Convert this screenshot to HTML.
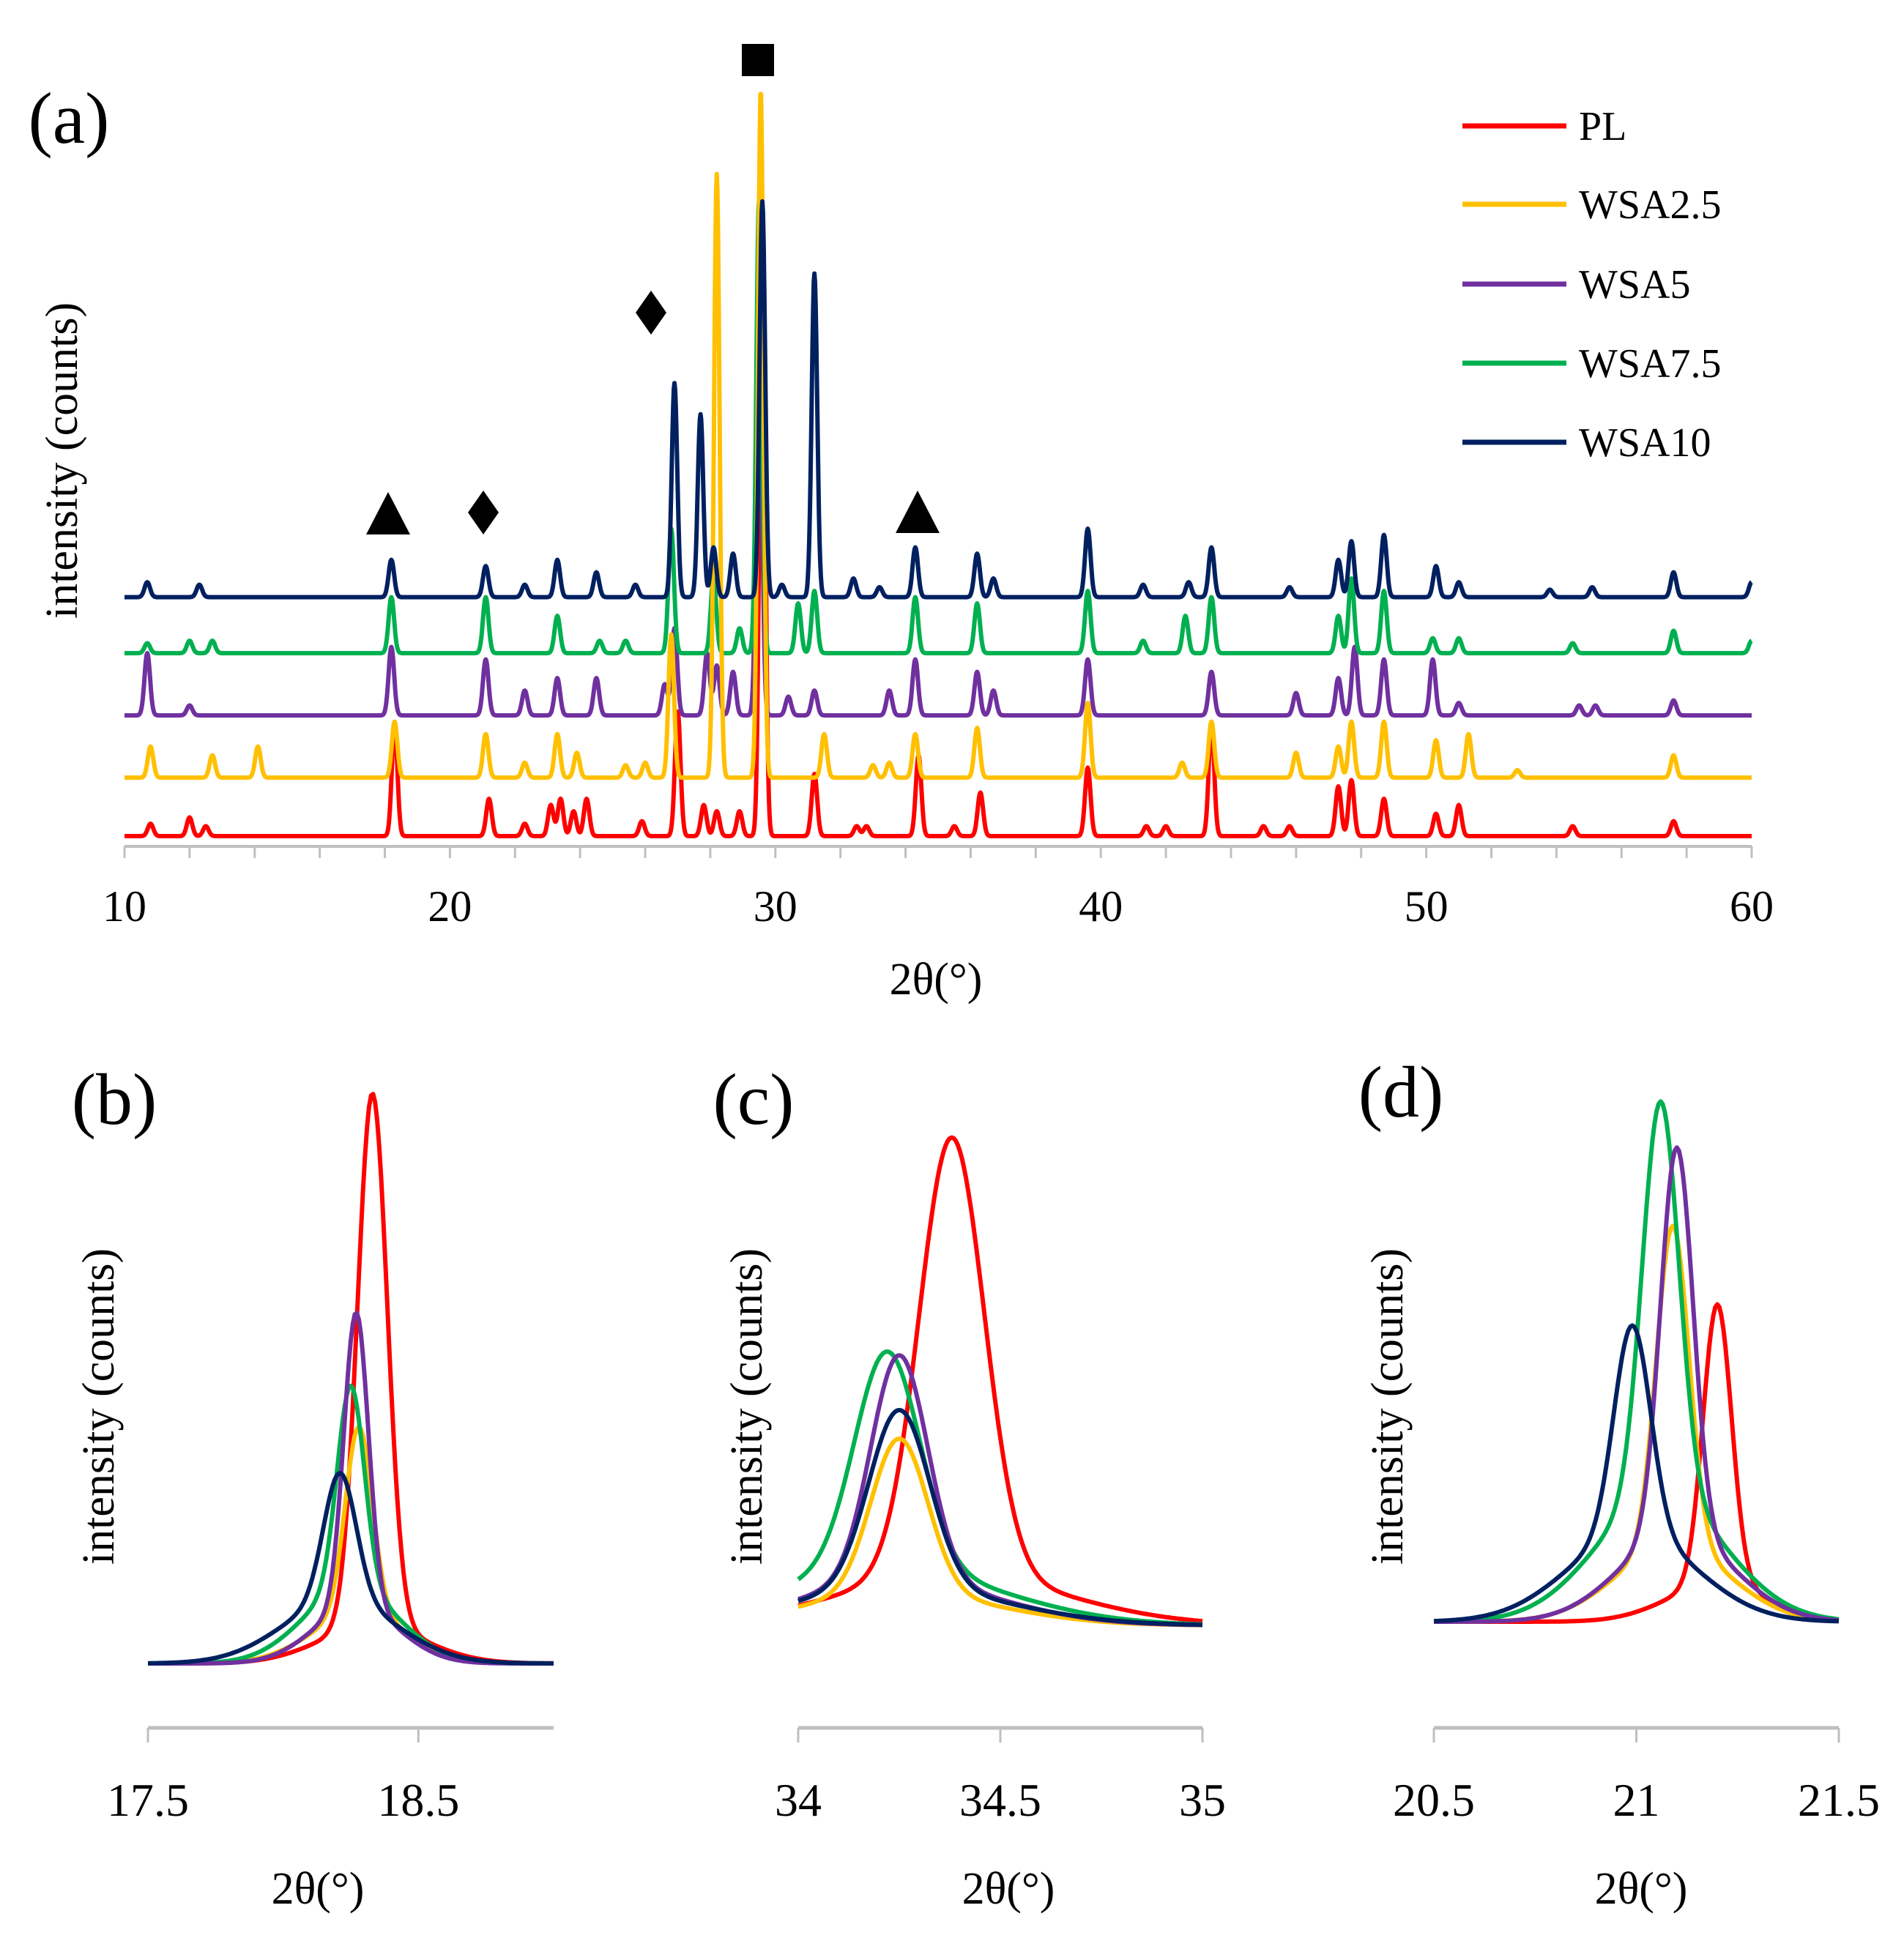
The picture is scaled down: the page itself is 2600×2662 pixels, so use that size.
<!DOCTYPE html>
<html><head><meta charset="utf-8">
<style>
html,body{margin:0;padding:0;background:#fff;}
svg{display:block;font-family:"Liberation Serif",serif;}
</style></head>
<body>
<svg id="fig" width="2600" height="2662" viewBox="0 0 2600 2662" xmlns="http://www.w3.org/2000/svg">
<rect width="2600" height="2662" fill="#fff"/>
<g id="pa"></g>
<g id="pb"></g>
<g id="pc"></g>
<g id="pd"></g>
</svg>
<script>
// ---------- data ----------
const seriesNames = ["PL","WSA2.5","WSA5","WSA7.5","WSA10"];
const seriesColors = ["#ff0000","#ffc000","#7030a0","#00b050","#002060"];
// panel (a): vertical offsets (intensity units) and peak lists
const aOffsets = [0, 47, 97, 147, 192];
const plPos = [10.8,12,12.5,18.3,21.2,22.3,23.1,23.4,23.8,24.2,25.9,27.0,27.8,28.2,28.9,29.6,31.2,32.5,32.8,34.4,35.5,36.3,39.6,41.4,42,43.4,45,45.8,47.3,47.7,48.7,50.3,51,54.5,57.6];
const plHt  = [10,15,8,90,30,10,25,30,20,30,12,100,25,20,20,505,50,8,8,65,8,35,55,8,8,90,8,8,40,45,30,18,25,8,12];
const w25Pos = [10.8,12.7,14.1,18.3,21.1,22.3,23.3,23.9,25.4,26,26.8,28.2,29.55,31.5,33,33.5,34.3,36.2,39.6,42.5,43.4,46,47.3,47.7,48.7,50.3,51.3,52.8,57.6];
const w25Ht  = [25,18,25,45,35,12,35,20,10,12,115,485,553,35,10,12,35,40,60,12,45,20,25,45,45,30,35,6,18];
const w5Pos = [10.7,12,18.2,21.1,22.3,23.3,24.5,26.6,26.9,27.9,28.2,28.7,29.5,30.4,31.2,33.5,34.3,36.2,36.7,39.6,43.4,46,47.3,47.8,48.7,50.2,51,54.7,55.2,57.6];
const w5Ht  = [50,8,55,45,20,30,30,25,70,50,40,35,330,15,20,20,45,35,20,45,35,18,30,55,45,45,10,8,8,12];
const w75Pos = [10.7,12,12.7,18.2,21.1,23.3,24.6,25.4,26.8,28.1,28.9,29.5,30.7,31.2,34.3,36.2,39.6,41.3,42.6,43.4,47.3,47.7,48.7,50.2,51,54.5,57.6,60];
const w75Ht  = [8,10,10,45,45,30,10,10,100,60,20,365,40,50,45,40,50,10,30,45,30,60,50,12,12,8,18,10];
const w10Pos = [10.7,12.3,18.2,21.1,22.3,23.3,24.5,25.7,26.9,27.7,28.1,28.7,29.6,30.2,31.2,32.4,33.2,34.3,36.2,36.7,39.6,41.3,42.7,43.4,45.8,47.3,47.7,48.7,50.3,51,53.8,55.1,57.6,60];
const w10Ht  = [12,10,30,25,10,30,20,10,172,147,40,35,318,10,260,15,8,40,35,15,55,10,12,40,8,30,45,50,25,12,6,8,20,12];
// panel (b): one main peak + broad foot per series
const bCenter = [18.33,18.28,18.27,18.25,18.21];
const bAmp    = [428,150,237,163,103];
const bFootAmp= [30,40,45,60,50];
// panel (c)
const cCenter = [34.38,34.25,34.25,34.22,34.25];
const cAmp    = [352,125,182,175,143];
const cFootAmp= [40,25,35,45,30];
// panel (d)
const dCenter = [21.2,21.09,21.1,21.06,20.99];
const dAmp    = [225,258,311,318,168];
const dFootAmp= [30,60,70,100,70];

const NS="http://www.w3.org/2000/svg";
function mk(parent,tag,attrs,text){const e=document.createElementNS(NS,tag);for(const k in attrs)e.setAttribute(k,attrs[k]);if(text!==undefined)e.textContent=text;parent.appendChild(e);return e;}

// ---------- panel a ----------
const pa=document.getElementById('pa');
const ax0=170, ax1=2392, axY=1156, aBase=1142, aK=1.7;
const xa=v=>ax0+(v-10)/50*(ax1-ax0);
const ya=(s,v)=>aBase-(aOffsets[s]+v)*aK;
const aPos=[plPos,w25Pos,w5Pos,w75Pos,w10Pos], aHt=[plHt,w25Ht,w5Ht,w75Ht,w10Ht];
const aLine=mk(pa,'line',{x1:ax0,y1:axY,x2:ax1,y2:axY,stroke:'#bfbfbf','stroke-width':4});


for(let t=10;t<=60;t+=2){
  const tk=mk(pa,'line',{x1:xa(t),y1:axY,x2:xa(t),y2:axY+16,stroke:'#bfbfbf','stroke-width':3});
  
  
  if(t%10===0){
    const lb=mk(pa,'text',{x:xa(t),y:1258,'font-size':60,'text-anchor':'middle'},String(t));
    
    
  }
}
const drawOrder=[0,2,3,1,4];
for(const s of drawOrder){
  let d='';
  for(let x=10;x<=60.0001;x+=0.02){
    let v=0;const P=aPos[s],H=aHt[s];
    for(let i=0;i<P.length;i++){const dx=(x-P[i])/0.085;v+=H[i]*Math.exp(-0.5*dx*dx);}
    d+=(d?'L':'M')+xa(x).toFixed(1)+','+ya(s,v).toFixed(1);
  }
  const p=mk(pa,'path',{d:d,fill:'none',stroke:seriesColors[s],'stroke-width':6,'stroke-linejoin':'round'});
  
  
}
let tx=mk(pa,'text',{x:94,y:195,'font-size':100,'text-anchor':'middle'},'(a)');


tx=mk(pa,'text',{x:0,y:0,'font-size':62,'text-anchor':'middle',transform:'translate(105,629) rotate(-90)'},'intensity (counts)');


tx=mk(pa,'text',{x:1278,y:1358,'font-size':62,'text-anchor':'middle'},'2θ(°)');


// markers
let m=mk(pa,'rect',{x:1013,y:60,width:44,height:44,fill:'#000'});


function diamond(cx,cy,name){const g=mk(pa,'polygon',{points:`${cx},${cy-30} ${cx+21},${cy} ${cx},${cy+30} ${cx-21},${cy}`,fill:'#000'});}
function tri(cx,cy,name){const g=mk(pa,'polygon',{points:`${cx},${cy-30} ${cx+30},${cy+28} ${cx-30},${cy+28}`,fill:'#000'});}
diamond(889,427,'marker-diamond-1');
diamond(660,700,'marker-diamond-2');
tri(530,702,'marker-triangle-1');
tri(1253,700,'marker-triangle-2');
// legend
const legY=[172,279,388,496,604];
for(let s=0;s<5;s++){
  const l=mk(pa,'line',{x1:1997,y1:legY[s],x2:2139,y2:legY[s],stroke:seriesColors[s],'stroke-width':7});
  
  
  const t=mk(pa,'text',{x:2156,y:legY[s]+19,'font-size':56},seriesNames[s]);
  
  
}

// ---------- zoom panels ----------
function zoomPanel(gid,key,xmin,xmax,px0,px1,base,ticks,tickLbls,centers,amps,foots,sig,lblTxt,lblX,lblY,ylX,titleX){
  const g=document.getElementById(gid);
  const xs=v=>px0+(v-xmin)/(xmax-xmin)*(px1-px0);
  const ys=v=>base-v*1.7;
  const ax=mk(g,'line',{x1:px0,y1:2360,x2:px1,y2:2360,stroke:'#bfbfbf','stroke-width':5});
  
  
  for(let i=0;i<ticks.length;i++){
    const tk=mk(g,'line',{x1:xs(ticks[i]),y1:2360,x2:xs(ticks[i]),y2:2380,stroke:'#bfbfbf','stroke-width':3});
    
    
    const tl=mk(g,'text',{x:xs(ticks[i]),y:2480,'font-size':64,'text-anchor':'middle'},tickLbls[i]);
    
    
  }
  const order=[0,1,3,2,4];
  for(const s of order){
    let d='';
    for(let x=xmin;x<=xmax+1e-6;x+=(xmax-xmin)/200){
      const dx=(x-centers[s])/sig[s], df=(x-centers[s])/(sig[s]*3.5);
      const v=amps[s]*Math.exp(-0.5*dx*dx)+foots[s]*Math.exp(-0.5*df*df);
      d+=(d?'L':'M')+xs(x).toFixed(1)+','+ys(v).toFixed(1);
    }
    const p=mk(g,'path',{d:d,fill:'none',stroke:seriesColors[s],'stroke-width':6,'stroke-linejoin':'round'});
    
    
  }
  let t=mk(g,'text',{x:lblX,y:lblY,'font-size':100,'text-anchor':'middle'},lblTxt);
  
  
  t=mk(g,'text',{x:0,y:0,'font-size':62,'text-anchor':'middle',transform:`translate(${ylX},1921) rotate(-90)`},'intensity (counts)');
  
  
  t=mk(g,'text',{x:titleX,y:2600,'font-size':62,'text-anchor':'middle'},'2θ(°)');
  
  
}
zoomPanel('pb','b',17.5,19.0,202,756,2272,[17.5,18.5],['17.5','18.5'],bCenter,bAmp,bFootAmp,[0.055,0.05,0.045,0.05,0.06],'(b)',156,1535,155,434);
zoomPanel('pc','c',34,35,1090,1642,2220,[34,34.5,35],['34','34.5','35'],cCenter,cAmp,cFootAmp,[0.08,0.07,0.07,0.08,0.075],'(c)',1029,1535,1040,1377);
zoomPanel('pd','d',20.5,21.5,1958,2511,2215,[20.5,21,21.5],['20.5','21','21.5'],dCenter,dAmp,dFootAmp,[0.035,0.04,0.04,0.045,0.045],'(d)',1913,1525,1915,2241);
</script>
</body></html>
